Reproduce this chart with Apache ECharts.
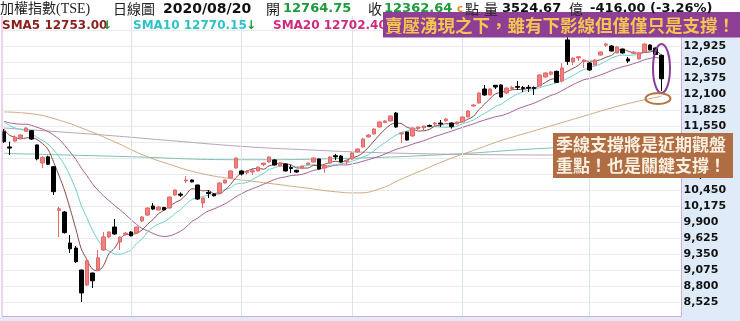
<!DOCTYPE html>
<html><head><meta charset="utf-8">
<script src="https://cdn.jsdelivr.net/npm/echarts@6/dist/echarts.min.js"></script>
<style>html,body{margin:0;padding:0;background:#fff}#c{width:740px;height:321px}</style>
</head><body><div id="c"></div>
<script>
// ---- data ----
const dates = ['02/27',
 '03/02','03/03','03/04','03/05','03/06','03/09','03/10','03/11','03/12','03/13','03/16','03/17','03/18','03/19','03/20','03/23','03/24','03/25','03/26','03/27','03/30','03/31',
 '04/01','04/06','04/07','04/08','04/09','04/10','04/13','04/14','04/15','04/16','04/17','04/20','04/21','04/22','04/23','04/24','04/27','04/28','04/29','04/30',
 '05/04','05/05','05/06','05/07','05/08','05/11','05/12','05/13','05/14','05/15','05/18','05/19','05/20','05/21','05/22','05/25','05/26','05/27','05/28','05/29',
 '06/01','06/02','06/03','06/04','06/05','06/08','06/09','06/10','06/11','06/12','06/15','06/16','06/17','06/18','06/19','06/22','06/23','06/24','06/29','06/30',
 '07/01','07/02','07/03','07/06','07/07','07/08','07/09','07/10','07/13','07/14','07/15','07/16','07/17','07/20','07/21','07/22','07/23','07/24','07/27','07/28','07/29','07/30','07/31',
 '08/03','08/04','08/05','08/06','08/07','08/10','08/11','08/12','08/13','08/14','08/17','08/18','08/19','08/20'];

const opens = [11452,11190,11290,11350,11460,11470,11225,10915,11020,10850,10100,10072,9539,9453,9075,8817,9023,9075,9419,9642,9814,9556,9690,
 9728,9711,9918,10020,10175,10106,10150,10141,10364,10380,10605,10622,10536,10227,10410,10381,10398,10570,10656,10828,
 10777,10750,10760,10777,10890,10931,10966,10862,10897,10835,10790,10830,10890,10931,10983,10830,10914,11040,11034,10940,
 10983,11103,11189,11361,11413,11533,11610,11636,11773,11413,11447,11378,11505,11520,11560,11585,11600,11640,11602,11584,
 11619,11705,11894,11945,12186,12083,12250,12255,12117,12195,12230,12210,12215,12210,12238,12392,12440,12490,12323,13030,12650,12720,12660,
 12633,12598,12770,12940,12925,12805,12873,12702,12800,12702,12822,12942,12891,12764.75];
const closes = [11280,11170,11360,11395,11515,11325,10985,11010,10893,10422,10128,9717,9439,9218,8681,9234,8890,9285,9644,9728,9694,9642,9708,
 9663,9814,9986,10141,10123,10158,10110,10330,10450,10360,10622,10590,10295,10312,10390,10350,10570,10622,10777,11000,
 10725,10770,10780,10845,10914,11017,10880,10914,10777,10820,10760,10862,10914,11000,10811,10870,11017,11020,10931,10960,
 11086,11155,11327,11395,11498,11619,11636,11722,11533,11430,11309,11516,11533,11550,11545,11600,11585,11670,11540,11619,
 11705,11808,11911,12117,12083,12186,12220,12048,12203,12210,12215,12195,12200,12195,12427,12461,12478,12300,12547,12660,12719,12740,12684,
 12513,12684,12822,12960,12839,12908,12805,12667,12822,12805,12959,12860,12779,12362.64];
const lows = [11260,11050,11280,11340,11450,11310,10960,10825,10880,10364,9640,9700,9367,9195,8525,8800,8766,9060,9400,9620,9680,9419,9670,
 9650,9700,9900,10000,10110,10100,10100,10130,10350,10330,10570,10580,10280,10141,10312,10340,10390,10560,10650,10820,
 10700,10720,10708,10770,10860,10920,10870,10850,10770,10742,10745,10820,10880,10920,10800,10742,10900,10966,10920,10880,
 10970,11095,11180,11355,11405,11525,11600,11630,11520,11258,11300,11370,11481,11481,11530,11533,11533,11619,11505,11575,
 11610,11700,11880,11940,12070,12075,12186,12040,12100,12169,12169,12134,12134,12083,12230,12380,12420,12290,12300,12600,12598,12667,12547,
 12500,12590,12760,12908,12830,12800,12795,12633,12787,12695,12815,12850,12770,12150];
const highs = [11500,11280,11390,11410,11530,11480,11230,11030,11040,10860,10160,10090,9676,9487,9080,9250,9030,9419,9728,9740,9952,9650,9730,
 9740,9820,10000,10150,10227,10170,10160,10340,10460,10410,10690,10630,10540,10320,10450,10390,10580,10630,10790,11010,
 10790,10790,10828,10850,10918,11030,10980,10920,10905,10880,10795,10870,10920,11010,10990,10880,11030,11070,11050,10966,
 11100,11165,11340,11410,11510,11630,11650,11730,11791,11440,11455,11525,11540,11555,11575,11619,11653,11687,11610,11630,
 11715,11820,11925,12130,12255,12200,12255,12265,12215,12240,12323,12238,12255,12230,12440,12475,12495,12500,12633,13090,12725,12753,12700,
 12650,12700,12830,12977,12940,12920,12880,12736,12840,12815,12970,12950,12900,12780];

const sma5 = [11495,11391,11357,11328,11344,11353,11316,11246,11146,10927,10688,10434,10120,9785,9437,9258,9092,9062,9147,9356,9448,9599,9683,
 9687,9704,9763,9862,9945,10044,10104,10172,10234,10282,10374,10470,10463,10436,10442,10387,10383,10449,10542,10664,
 10739,10779,10810,10824,10807,10865,10887,10914,10900,10882,10830,10827,10827,10871,10869,10891,10922,10944,10930,10960,
 11003,11030,11092,11185,11292,11399,11495,11574,11602,11588,11526,11502,11464,11468,11491,11549,11563,11590,11588,11603,
 11624,11668,11717,11832,11925,12021,12103,12131,12148,12173,12179,12174,12205,12203,12246,12296,12352,12372,12443,12489,12541,12593,12670,
 12663,12668,12689,12733,12764,12843,12867,12836,12808,12801,12812,12823,12845,12753];
const sma10 = [11622,11557,11517,11492,11471,11424,11354,11302,11237,11136,11021,10875,10683,10466,10182,9973,9763,9591,9466,9397,9353,9346,9373,
 9417,9530,9606,9731,9814,9866,9904,9968,10048,10114,10209,10287,10318,10335,10362,10381,10427,10456,10489,10553,
 10563,10581,10630,10683,10736,10802,10833,10862,10862,10845,10848,10857,10871,10886,10876,10861,10875,10886,10901,10915,
 10947,10976,11018,11058,11126,11201,11263,11333,11394,11440,11463,11499,11519,11535,11540,11538,11533,11527,11528,11547,
 11587,11616,11654,11710,11764,11823,11886,11924,11990,12049,12100,12139,12168,12176,12210,12238,12263,12289,12323,12368,12419,12473,12521,
 12553,12579,12615,12663,12717,12753,12768,12763,12771,12783,12828,12845,12841,12770];
const sma20 = [11631,11604,11589,11581,11581,11562,11527,11496,11454,11393,11322,11216,11100,10979,10827,10699,10559,10447,10352,10267,10187,10111,10028,
 9942,9856,9790,9747,9703,9666,9651,9661,9697,9744,9813,9909,9962,10033,10088,10124,10166,10212,10269,10334,
 10386,10434,10474,10509,10549,10592,10630,10659,10676,10699,10706,10719,10751,10785,10806,10832,10854,10874,10882,10880,
 10898,10917,10945,10972,11001,11031,11069,11110,11148,11178,11205,11238,11269,11297,11333,11370,11398,11430,11461,11494,
 11525,11558,11587,11623,11652,11681,11710,11726,11759,11798,11844,11878,11911,11943,11987,12031,12075,12107,12157,12209,12260,12306,12345,
 12365,12395,12427,12463,12503,12538,12568,12591,12622,12652,12691,12712,12728,12702];
// long averages, read at sample candles: [candle index, value]
const sma60 = [[0,11791],[5,11760],[10,11650],[15,11480],[20,11280],[25,11060],[30,10890],[35,10750],[40,10660],[45,10600],[50,10540],
 [55,10480],[60,10420],[64,10400],[68,10470],[72,10640],[76,10800],[80,10960],[85,11130],[90,11300],[95,11440],[100,11580],[105,11720],[110,11860],[115,11980],[119,12060]];
const sma120 = [[0,11516],[10,11450],[20,11380],[30,11300],[44,11194],[55,11140],[65,11100],[75,11075],[85,11060],[98,11052],[110,11080],[119,11120]];
const sma240 = [[0,11080],[20,11030],[44,10970],[60,10990],[80,11060],[98,11167],[119,11250]];

const yMin = 8250, yMax = 13475, yStep = 275;

const cats = dates.concat(['', '', '']);
const candles = dates.map((d, i) => [opens[i], closes[i], lows[i], highs[i]]);
const monthStarts = [];
for (let i = 2; i < dates.length; i++) {
  if (dates[i].slice(0, 2) !== dates[i - 1].slice(0, 2)) monthStarts.push(i);
}

const chart = echarts.init(document.getElementById('c'), null, { renderer: 'canvas' });
const lineBase = { type: 'line', showSymbol: false, symbol: 'none', silent: true, z: 3 };
const hdr = (text, x, font, fill) => ({
  type: 'text', z: 50, style: { text, x, y: 9, font, fill, verticalAlign: 'middle', textVerticalAlign: 'middle' }
});
const leg = (text, x, fill) => ({
  type: 'text', z: 20, style: { text, x, y: 26, font: 'bold 12px "DejaVu Sans"', fill, verticalAlign: 'middle', textVerticalAlign: 'middle' }
});
const cjk = '"Noto Sans CJK TC"';
const num = 'bold 13px "DejaVu Sans"';

chart.setOption({
  animation: false,
  backgroundColor: '#ffffff',
  grid: { left: 1.2, right: 59.4, top: 14, bottom: 3, containLabel: false },
  xAxis: {
    type: 'category', data: cats, boundaryGap: true,
    axisLine: { show: false }, axisTick: { show: false }, axisLabel: { show: false }, splitLine: { show: false }
  },
  yAxis: {
    type: 'value', position: 'right', min: yMin, max: yMax, interval: yStep, scale: true,
    axisLine: { show: false }, axisTick: { show: false },
    axisLabel: { color: '#111', fontWeight: 'bold', fontSize: 11, fontFamily: 'DejaVu Sans', margin: 3,
      showMinLabel: false, showMaxLabel: false },
    splitLine: { show: true, lineStyle: { color: '#ebebeb', width: 1 } }
  },
  series: [
    Object.assign({}, lineBase, { name: 'SMA240', data: sma240, smooth: true, connectNulls: true, z: 1,
      lineStyle: { color: '#7fbfb8', width: 1 },
      markLine: { silent: true, symbol: ['none', 'none'], label: { show: false },
        lineStyle: { color: '#d8e3ee', type: 'solid', width: 1 },
        data: monthStarts.map(i => ({ xAxis: dates[i] })) } }),
    Object.assign({}, lineBase, { name: 'SMA120', data: sma120, smooth: true, lineStyle: { color: '#b4a6b4', width: 1 } }),
    Object.assign({}, lineBase, { name: 'SMA60', data: sma60, smooth: true, lineStyle: { color: '#d4aa80', width: 1 } }),
    Object.assign({}, lineBase, { name: 'SMA20', data: sma20, smooth: 0.3, lineStyle: { color: '#a8629a', width: 1 } }),
    Object.assign({}, lineBase, { name: 'SMA10', data: sma10, smooth: 0.3, lineStyle: { color: '#6fd0cc', width: 1 } }),
    Object.assign({}, lineBase, { name: 'SMA5', data: sma5, smooth: 0.3, lineStyle: { color: '#8e4a4a', width: 1 } }),
    {
      type: 'candlestick', name: 'TSE', data: candles, barWidth: 4, z: 5,
      itemStyle: { color: '#f28080', color0: '#000000', borderColor: '#e06a6a', borderColor0: '#000000', borderWidth: 1 }
    }
  ],
  graphic: [
    { type: 'rect', z: -100, silent: true, shape: { x: 681.5, y: 14, width: 59, height: 307 }, style: { fill: '#dfebf8' } },
    { type: 'rect', z: -100, silent: true, shape: { x: 0, y: 317, width: 740, height: 4 }, style: { fill: '#dfebf8' } },
    { type: 'line', z: 10, silent: true, shape: { x1: 2, y1: 16, x2: 2, y2: 316.5 }, style: { stroke: '#d9aad9', lineWidth: 1 } },
    { type: 'line', z: 10, silent: true, shape: { x1: 2, y1: 316.5, x2: 681.5, y2: 316.5 }, style: { stroke: '#d9aad9', lineWidth: 1 } },
    { type: 'line', z: 10, silent: true, shape: { x1: 681.5, y1: 16, x2: 681.5, y2: 316.5 }, style: { stroke: '#d9aad9', lineWidth: 1 } },
    { type: 'rect', z: 15, silent: true, shape: { x: 0, y: 0, width: 740, height: 16 }, style: { fill: '#ffffff' } },
    hdr('加權指數(TSE)', 0, '14px "Liberation Serif", ' + cjk, '#222'),
    hdr('日線圖', 113, '14px ' + cjk, '#222'),
    hdr('2020/08/20', 163, 'bold 14px "DejaVu Sans"', '#111'),
    hdr('開', 266, '14px ' + cjk, '#222'),
    hdr('12764.75', 283, num, '#1e9a3c'),
    hdr('收', 368, '14px ' + cjk, '#222'),
    hdr('12362.64', 384, num, '#1e9a3c'),
    hdr('c', 457, 'bold 10px "DejaVu Sans"', '#e08a20'),
    hdr('點', 465, '14px ' + cjk, '#222'),
    hdr('量', 484, '14px ' + cjk, '#222'),
    hdr('3524.67', 502, num, '#111'),
    hdr('億', 569, '14px ' + cjk, '#222'),
    hdr('-416.00 (-3.26%)', 590, num, '#111'),
    leg('SMA5 12753.00', 2, '#8b1e1e'),
    leg('↓', 102, '#1e9a3c'),
    leg('SMA10 12770.15', 133, '#2ec2c8'),
    leg('↓', 246, '#1e9a3c'),
    leg('SMA20 12702.40', 273, '#d02a7c'),
    { type: 'rect', z: 30, silent: true, shape: { x: 383, y: 12, width: 357, height: 25.5 }, style: { fill: '#8c3f94' } },
    { type: 'text', z: 31, silent: true, style: { text: '賣壓湧現之下，雖有下影線但僅僅只是支撐！', x: 385, y: 25,
        font: 'bold 17.5px ' + cjk, fill: '#f3c451', verticalAlign: 'middle', textVerticalAlign: 'middle' } },
    { type: 'rect', z: 30, silent: true, shape: { x: 553, y: 133, width: 180, height: 45 }, style: { fill: '#b06c42' } },
    { type: 'text', z: 31, silent: true, style: { text: '季線支撐將是近期觀盤\n重點！也是關鍵支撐！', x: 556, y: 155.5,
        font: 'bold 17px ' + cjk, lineHeight: 21, fill: '#fbefe0', verticalAlign: 'middle', textVerticalAlign: 'middle' } },
    { type: 'ellipse', z: 32, silent: true, shape: { cx: 661.5, cy: 68.5, rx: 8.5, ry: 24.5 }, style: { fill: 'none', stroke: '#8a3d98', lineWidth: 2 } },
    { type: 'ellipse', z: 32, silent: true, shape: { cx: 658, cy: 98.5, rx: 12.5, ry: 5.5 }, style: { fill: 'none', stroke: '#b87442', lineWidth: 2 } }
  ]
});
</script></body></html>
